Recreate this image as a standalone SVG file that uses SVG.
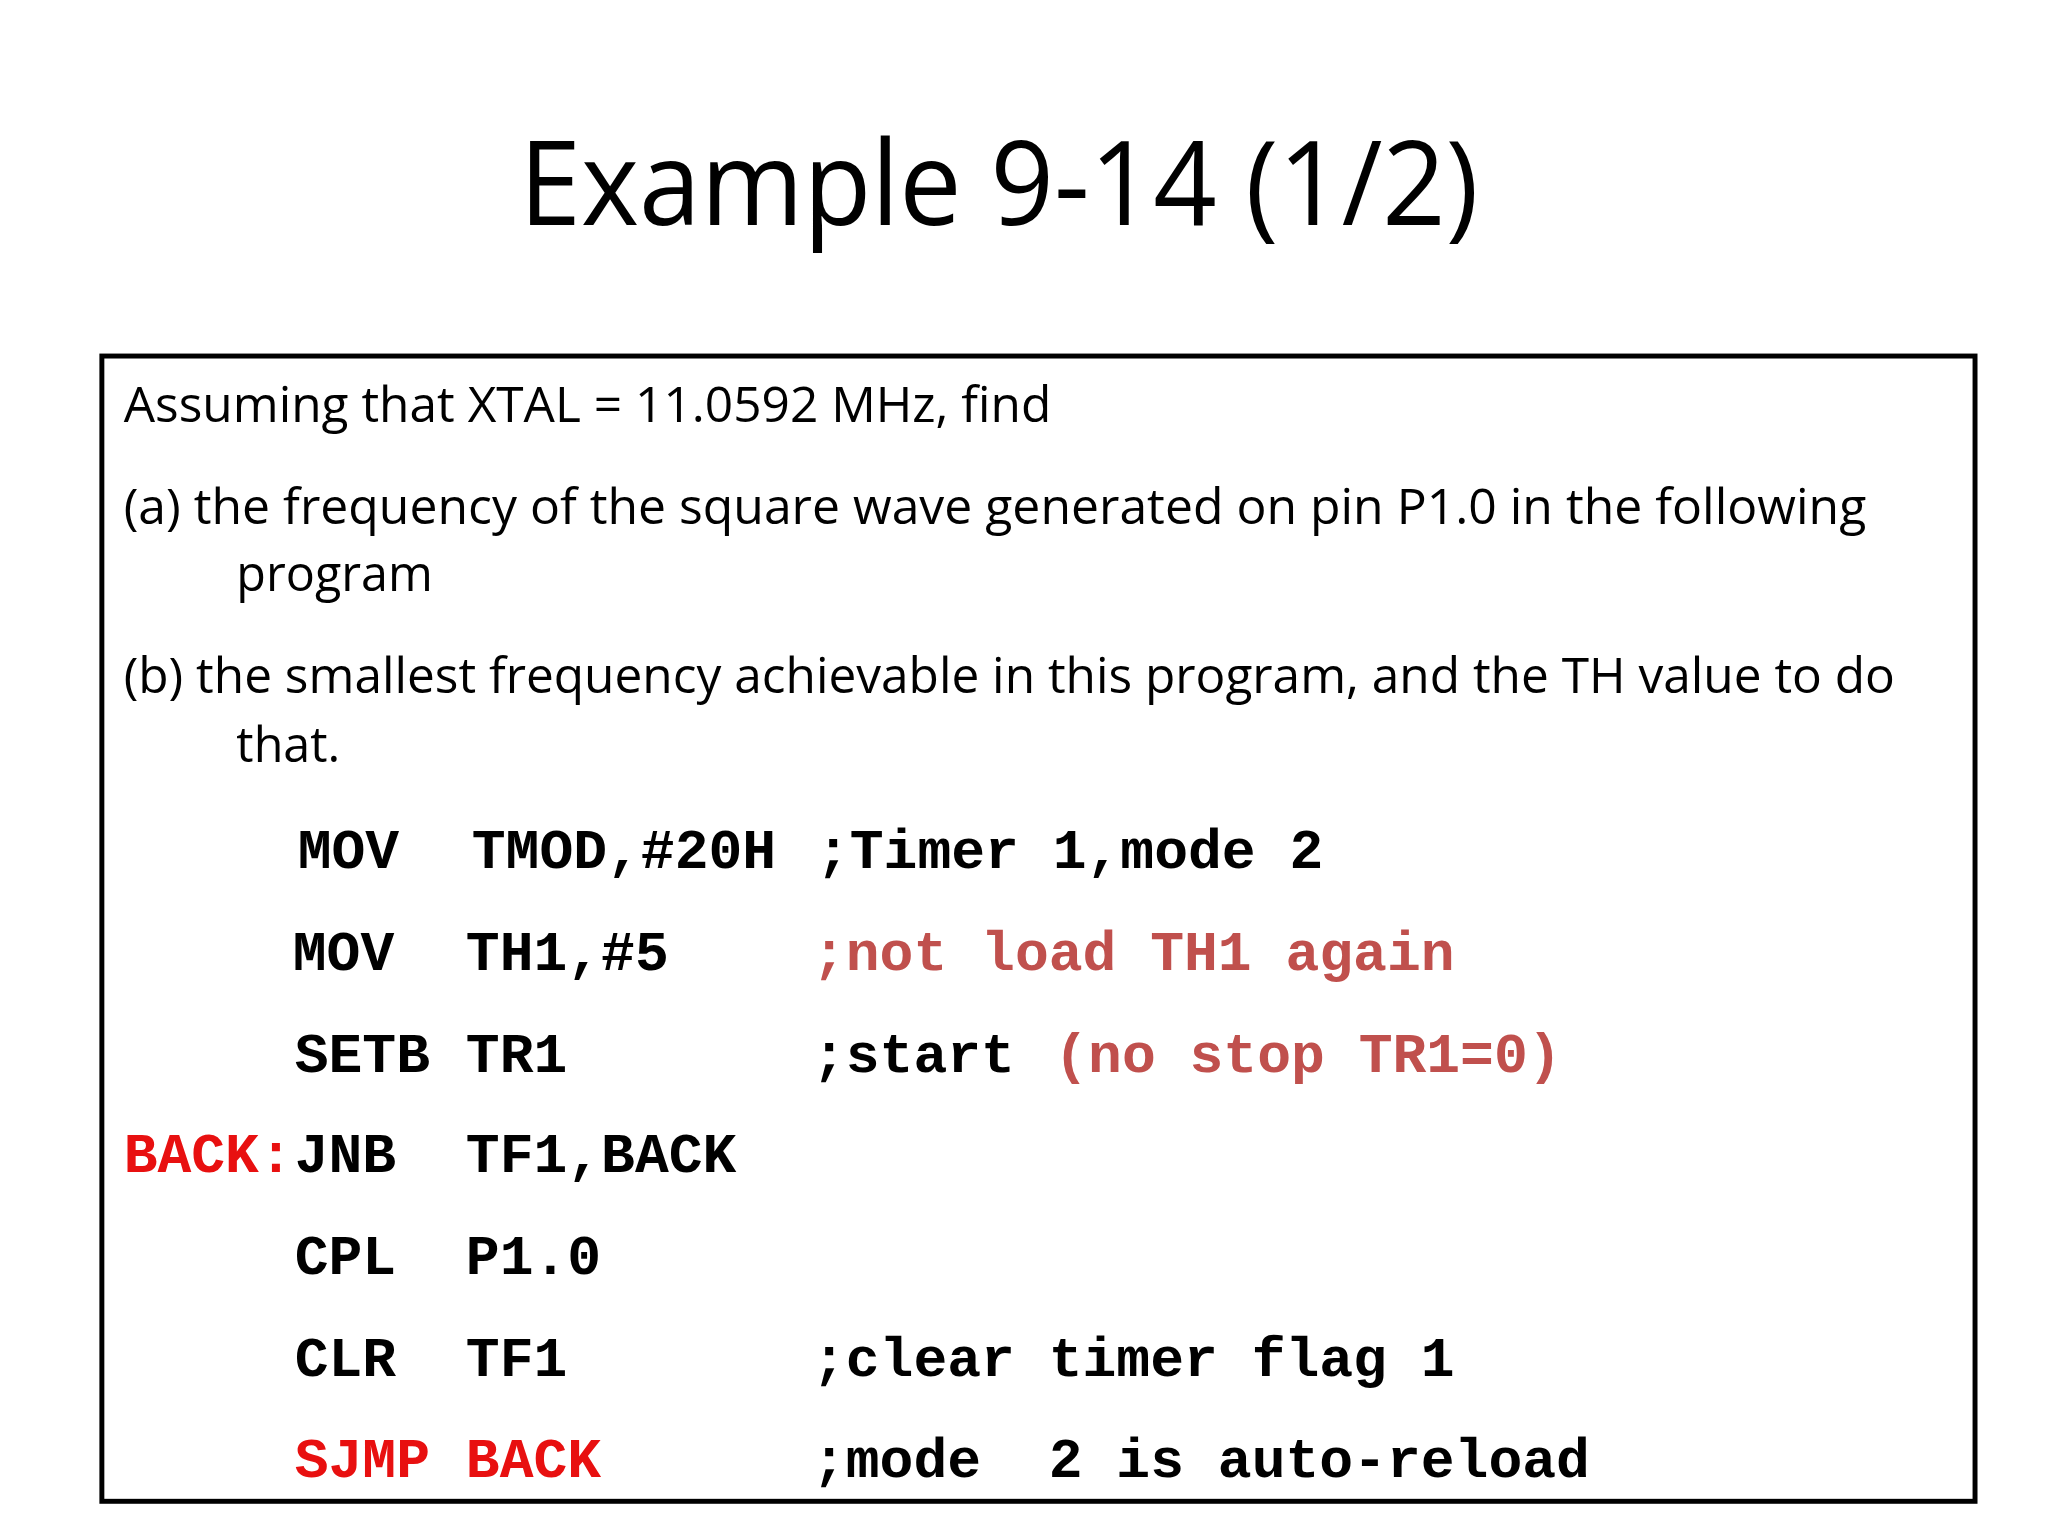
<svg xmlns="http://www.w3.org/2000/svg" width="2048" height="1536" viewBox="0 0 2048 1536">
<style>
.s{font-family:"Open Sans","Liberation Sans",sans-serif;font-size:49px;fill:#000}
.c{font-family:"Liberation Mono","Courier New",monospace;font-weight:bold;font-size:57px;fill:#000}
.r{fill:#e81010}
.m{fill:#c0504d}
</style>
<rect width="2048" height="1536" fill="#fff"/>
<g transform="scale(0.989)">
<g id="title"><text x="1010" y="228" text-anchor="middle" font-family="Open Sans, Liberation Sans, sans-serif" font-size="118" textLength="970" lengthAdjust="spacingAndGlyphs">Example 9-14 (1/2)</text></g>
<g id="box">
<rect x="103" y="360" width="1894" height="1158" fill="none" stroke="#000" stroke-width="5"/>
<text class="s" x="125" y="427" textLength="938" lengthAdjust="spacingAndGlyphs">Assuming that XTAL = 11.0592 MHz, find</text>
<text class="s" x="125" y="530" textLength="1762" lengthAdjust="spacingAndGlyphs">(a) the frequency of the square wave generated on pin P1.0 in the following</text>
<text class="s" x="239" y="598">program</text>
<text class="s" x="125" y="701" textLength="1791" lengthAdjust="spacingAndGlyphs">(b) the smallest frequency achievable in this program, and the TH value to do</text>
<text class="s" x="239" y="770">that.</text>
<text class="c" y="878"><tspan x="301">MOV</tspan><tspan x="477">TMOD,#20H</tspan><tspan x="825">;Timer 1,mode 2</tspan></text>
<text class="c" y="981"><tspan x="296">MOV</tspan><tspan x="471">TH1,#5</tspan><tspan x="821" class="m">;not load TH1 again</tspan></text>
<text class="c" y="1084"><tspan x="298">SETB</tspan><tspan x="471">TR1</tspan><tspan x="821">;start</tspan><tspan x="1066" class="m">(no stop TR1=0)</tspan></text>
<text class="c" y="1185"><tspan x="125" class="r">BACK:</tspan><tspan x="298">JNB</tspan><tspan x="471">TF1,BACK</tspan></text>
<text class="c" y="1288"><tspan x="298">CPL</tspan><tspan x="471">P1.0</tspan></text>
<text class="c" y="1391"><tspan x="298">CLR</tspan><tspan x="471">TF1</tspan><tspan x="821">;clear timer flag 1</tspan></text>
<text class="c" y="1493" xml:space="preserve"><tspan x="298" class="r">SJMP</tspan><tspan x="471" class="r">BACK</tspan><tspan x="821">;mode  2 is auto-reload</tspan></text>
</g>
</g>
</svg>
